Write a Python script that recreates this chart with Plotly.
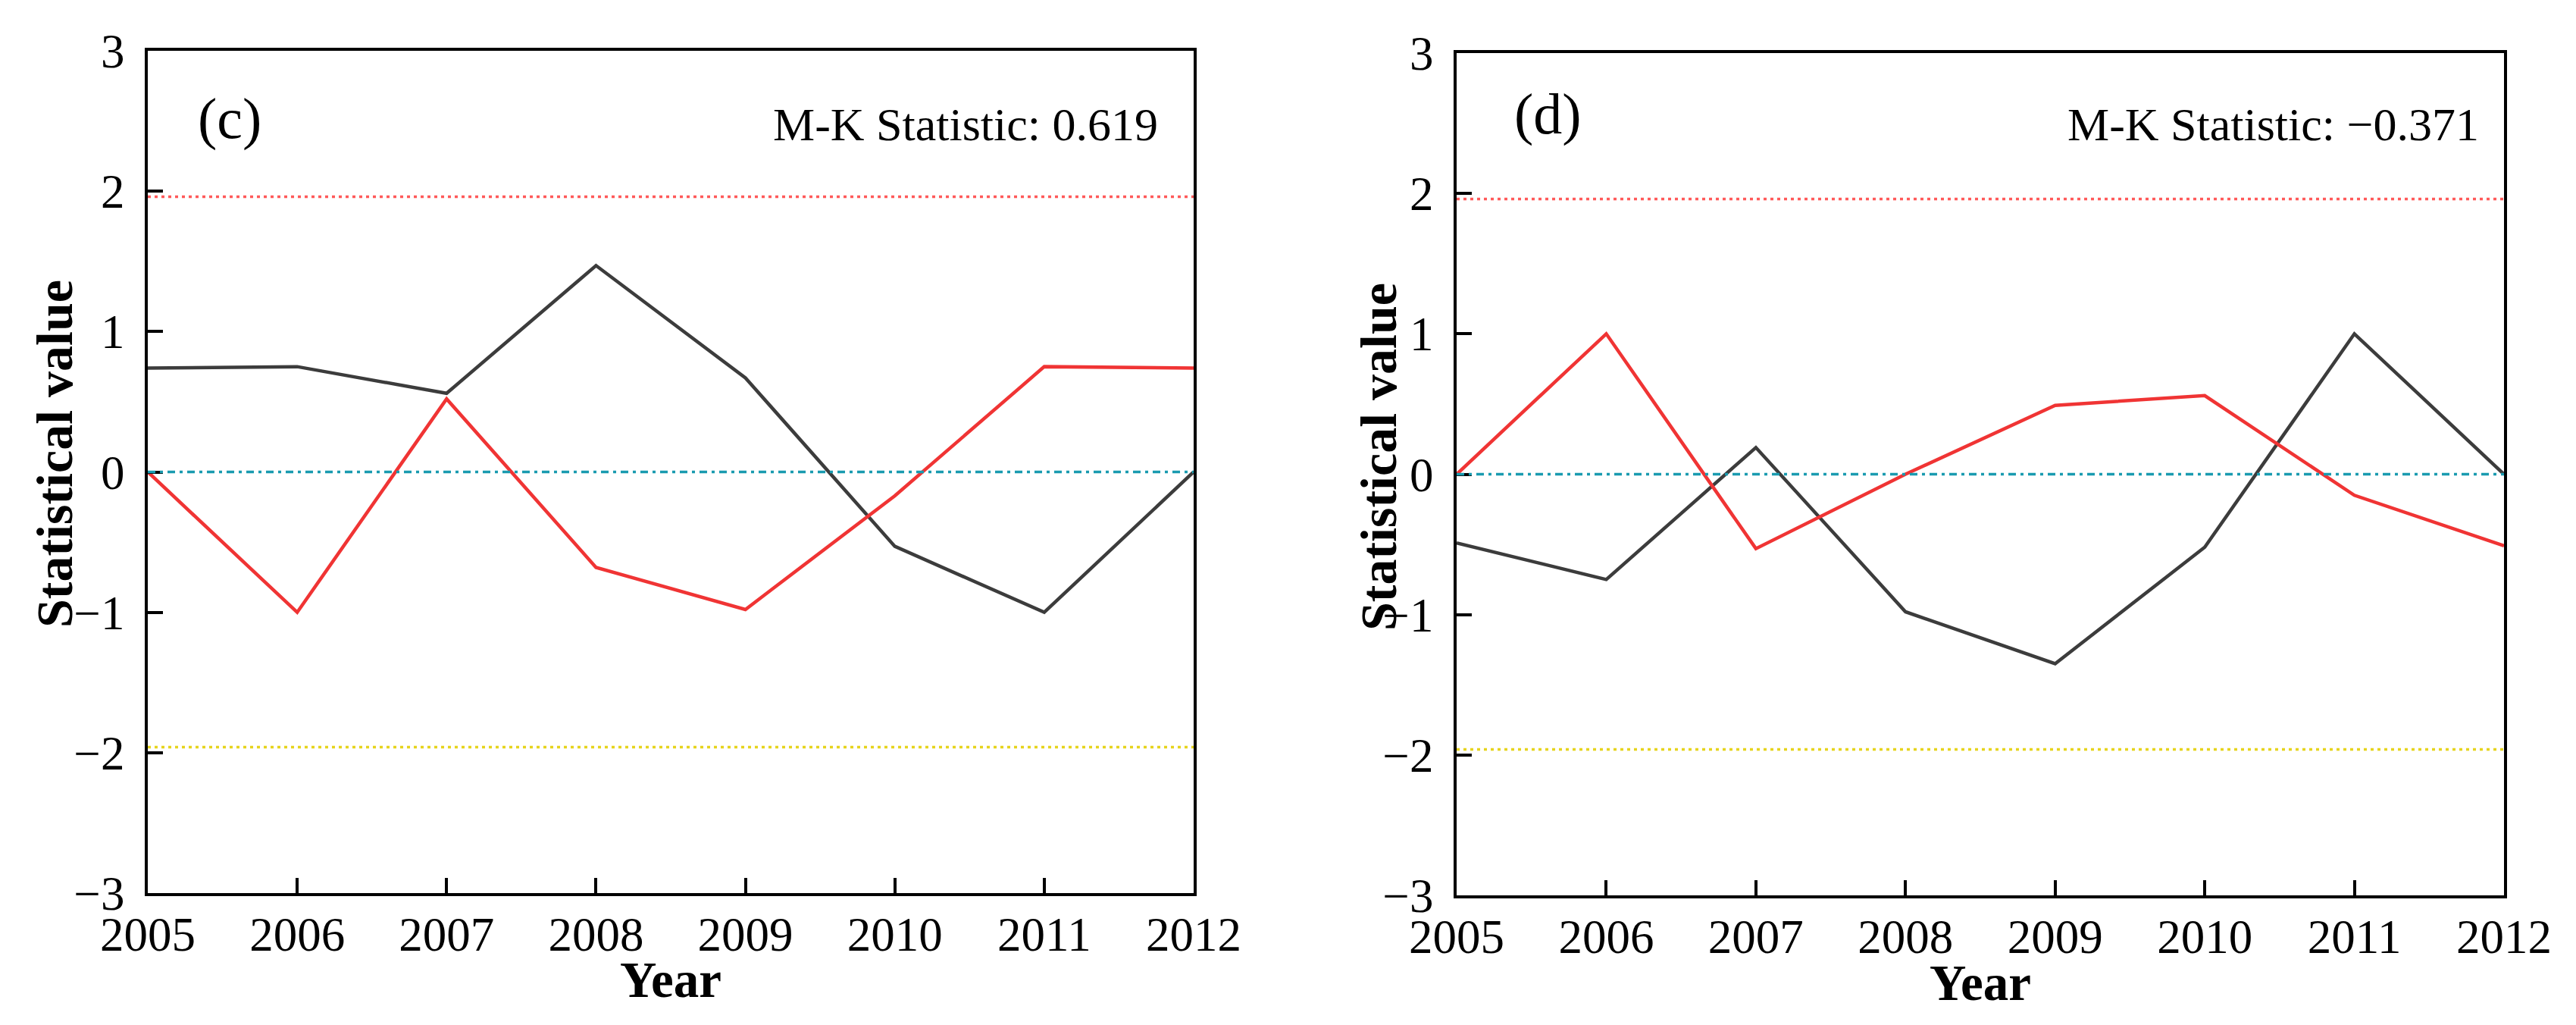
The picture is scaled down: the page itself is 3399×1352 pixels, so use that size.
import plotly.graph_objects as go

# Mann-Kendall UF / UB sequences
years = [2005, 2006, 2007, 2008, 2009, 2010, 2011, 2012]

uf_c = [0.74, 0.75, 0.56, 1.47, 0.67, -0.53, -1.00, 0.00]
ub_c = [0.00, -1.00, 0.52, -0.68, -0.98, -0.17, 0.75, 0.74]

uf_d = [-0.49, -0.75, 0.19, -0.98, -1.35, -0.52, 1.00, 0.00]
ub_d = [0.00, 1.00, -0.53, 0.00, 0.49, 0.56, -0.15, -0.51]

panel_labels = ["(c)", "(d)"]
mk_labels = ["M-K Statistic: 0.619", "M-K Statistic: \u22120.371"]

y_ticks = [-3, -2, -1, 0, 1, 2, 3]
crit_upper = 1.96
crit_lower = -1.96

W, H = 3399, 1352
FONT = "Liberation Serif, Times New Roman, serif"
BLACK_LINE = "#3c3c3c"
RED_LINE = "#f03434"


def px(x):
    return x / W


def py(y):
    return 1 - y / H


# panel boxes in pixels: (left, right, top, bottom)
boxes = [(187, 1567, 59, 1170), (1914, 3296, 62, 1173)]

fig = go.Figure()

series = [(uf_c, ub_c), (uf_d, ub_d)]
for i, (uf, ub) in enumerate(series):
    xa = "x" if i == 0 else "x2"
    ya = "y" if i == 0 else "y2"
    fig.add_trace(go.Scatter(x=years, y=uf, mode="lines", xaxis=xa, yaxis=ya,
                             line=dict(color=BLACK_LINE, width=4.5), showlegend=False))
    fig.add_trace(go.Scatter(x=years, y=ub, mode="lines", xaxis=xa, yaxis=ya,
                             line=dict(color=RED_LINE, width=4.5), showlegend=False))

    # significance bounds and zero reference
    fig.add_shape(type="line", xref=f"{xa} domain", yref=ya, x0=0, x1=1,
                  y0=crit_upper, y1=crit_upper,
                  line=dict(color="#ff5a5a", width=3.5, dash="4px,5px"))
    fig.add_shape(type="line", xref=f"{xa} domain", yref=ya, x0=0, x1=1,
                  y0=crit_lower, y1=crit_lower,
                  line=dict(color="#e6d41e", width=3.5, dash="4px,5px"))
    fig.add_shape(type="line", xref=f"{xa} domain", yref=ya, x0=0, x1=1,
                  y0=0, y1=0,
                  line=dict(color="#1a9bb0", width=3.5, dash="10px,6px,4px,6px"))

axis_common = dict(
    showline=True, linecolor="black", linewidth=4, mirror=True,
    ticks="inside", ticklen=20, tickwidth=4, tickcolor="black",
    showgrid=False, zeroline=False, automargin=False,
    tickfont=dict(family=FONT, size=63, color="black"),
)

layout_axes = {}
for i, (l, r, t, b) in enumerate(boxes):
    sfx = "" if i == 0 else "2"
    layout_axes[f"xaxis{sfx}"] = dict(
        axis_common, domain=[px(l), px(r)], range=[2005, 2012],
        tickvals=years, anchor=f"y{sfx}", ticklabelstandoff=-4,
    )
    layout_axes[f"yaxis{sfx}"] = dict(
        axis_common, domain=[py(b), py(t)], range=[-3, 3],
        tickvals=y_ticks, anchor=f"x{sfx}", ticklabelstandoff=14,
    )

annotations = []
# y titles, x titles, panel letters, M-K statistic
ytitle_pos = [(64, 591), (1811, 595)]
xtitle_pos = [(877, 1284), (2605, 1288)]
letter_pos = [(295, 148), (2034, 143)]
mk_pos = [(1522, 156), (3265, 156)]
for i in range(2):
    annotations.append(dict(
        text="Statistical value", textangle=-90, xref="paper", yref="paper",
        x=px(ytitle_pos[i][0]), y=py(ytitle_pos[i][1]), showarrow=False,
        xanchor="center", yanchor="middle",
        font=dict(family=FONT, size=68, color="black", weight="bold")))
    annotations.append(dict(
        text="Year", xref="paper", yref="paper",
        x=px(xtitle_pos[i][0]), y=py(xtitle_pos[i][1]), showarrow=False,
        xanchor="center", yanchor="middle",
        font=dict(family=FONT, size=67, color="black", weight="bold")))
    annotations.append(dict(
        text=panel_labels[i], xref="paper", yref="paper",
        x=px(letter_pos[i][0]), y=py(letter_pos[i][1]), showarrow=False,
        xanchor="center", yanchor="middle",
        font=dict(family=FONT, size=76, color="black")))
    annotations.append(dict(
        text=mk_labels[i], xref="paper", yref="paper",
        x=px(mk_pos[i][0]), y=py(mk_pos[i][1]), showarrow=False,
        xanchor="right", yanchor="middle",
        font=dict(family=FONT, size=62, color="black")))

fig.update_layout(
    width=W, height=H,
    margin=dict(l=0, r=0, t=0, b=0, autoexpand=False),
    paper_bgcolor="white", plot_bgcolor="white",
    annotations=annotations,
    **layout_axes,
)

fig.write_html("out.html")
